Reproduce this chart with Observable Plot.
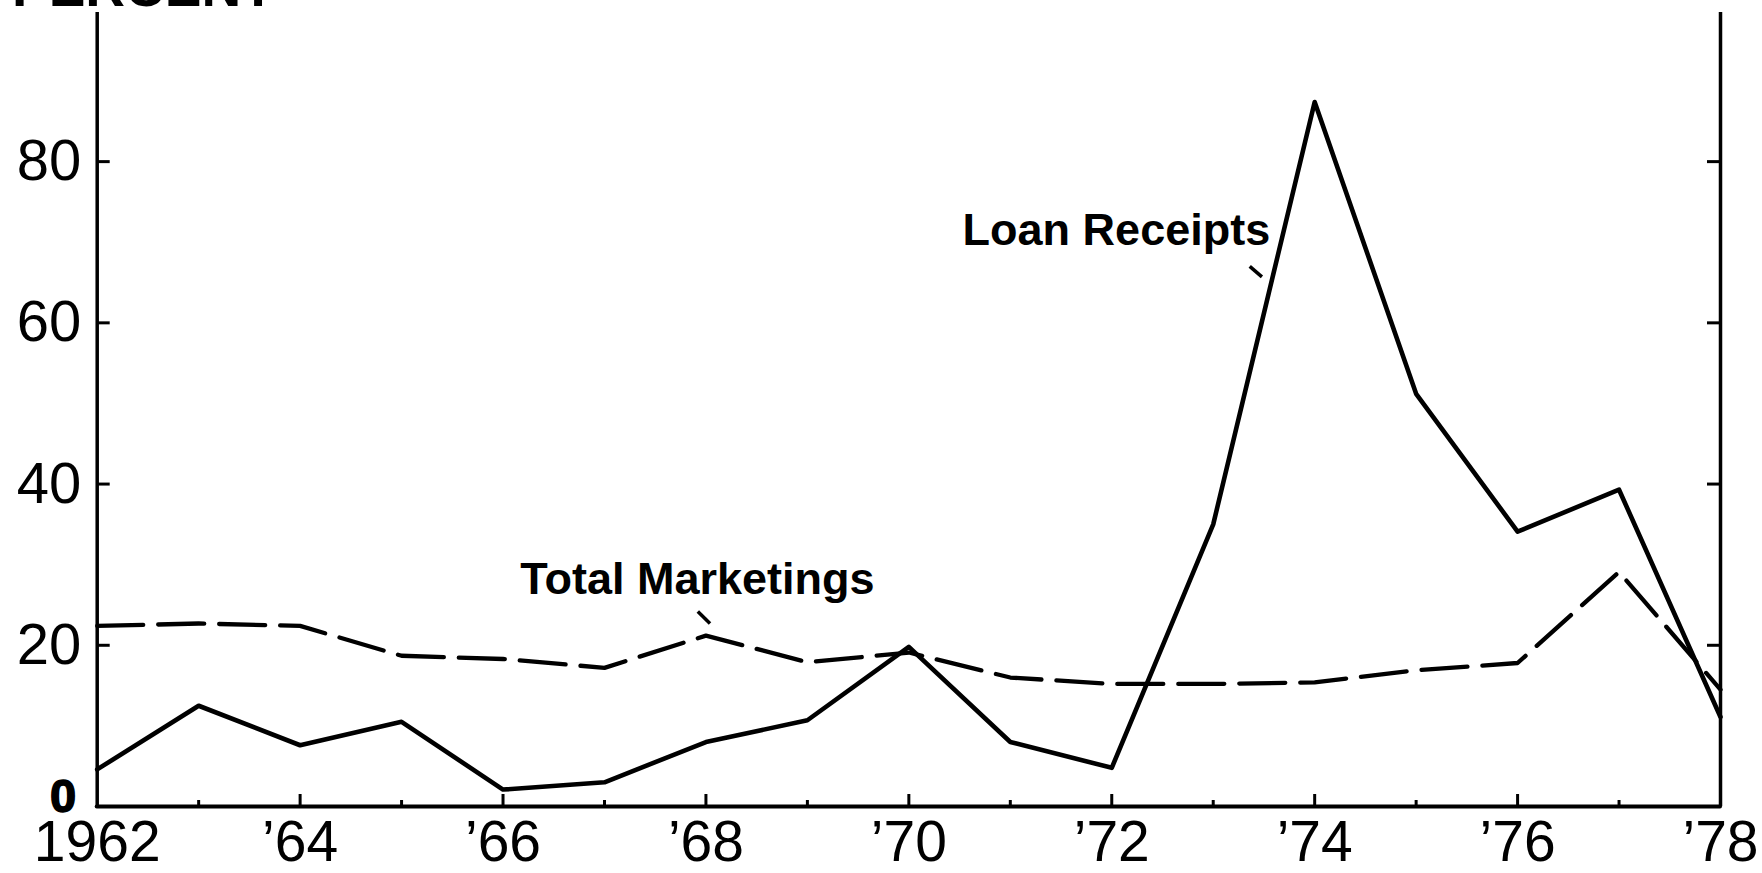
<!DOCTYPE html>
<html>
<head>
<meta charset="utf-8">
<script src="https://cdn.jsdelivr.net/npm/d3@7"></script>
<script src="https://cdn.jsdelivr.net/npm/@observablehq/plot@0.6"></script>
<style>
  html, body { margin: 0; padding: 0; background: #fff; overflow: hidden; }
  #wrap { position: relative; width: 1762px; height: 873px; }
  #title { position: absolute; top: -40px; left: 12px; z-index: 2;
           font: bold 55px "Liberation Sans", Arial, sans-serif; line-height: 1;
           color: #000; white-space: nowrap; }
  #chart { position: absolute; top: 0; left: 0; }
</style>
</head>
<body>
<div id="wrap">
  <div id="title">PERCENT</div>
  <div id="chart"></div>
</div>
<script>
// ---- data ----
const years = [1962,1963,1964,1965,1966,1967,1968,1969,1970,1971,1972,1973,1974,1975,1976,1977,1978];
const loanReceipts    = [4.6,12.5,7.6,10.5,2.1,3.0,8.0,10.7,19.8,8.0,4.8,35.0,87.4,51.2,34.1,39.3,11.1];
const totalMarketings = [22.4,22.7,22.4,18.7,18.3,17.2,21.2,17.9,19.1,16.0,15.2,15.2,15.4,16.9,17.8,29.1,14.5];

const xTickYears  = [1962,1964,1966,1968,1970,1972,1974,1976,1978];
const xTickLabels = ["1962","\u201964","\u201966","\u201968","\u201970","\u201972","\u201974","\u201976","\u201978"];
const minorTickYears = [1963,1965,1967,1969,1971,1973,1975,1977];
const yTickValues = [20,40,60,80];
const zeroLabel = ["0"];

const annotationLabels = ["Loan Receipts","Total Marketings"];
const annotationX = [1970.53, 1966.17];
const annotationY = [69.6, 26.4];
const leaderX1 = [1973.36, 1967.92];
const leaderY1 = [67.0, 24.2];
const leaderX2 = [1973.48, 1968.04];
const leaderY2 = [65.7, 22.7];

// ---- tables built from arrays ----
const loanData = years.map((y, i) => ({year: y, value: loanReceipts[i]}));
const mktData  = years.map((y, i) => ({year: y, value: totalMarketings[i]}));
const labelByYear = new Map(xTickYears.map((y, i) => [y, xTickLabels[i]]));
const annotations = annotationLabels.map((t, i) => ({text: t, x: annotationX[i], y: annotationY[i]}));
const leaders = annotationLabels.map((t, i) => ({x1: leaderX1[i], y1: leaderY1[i], x2: leaderX2[i], y2: leaderY2[i]}));

// ---- layout ----
const W = 1762, H = 873;
const mL = 96.7, mR = 42, mT = 12, mB = 67;
const frameW = W - mL - mR, frameH = H - mT - mB;
const font = "'Liberation Sans', Arial, Helvetica, sans-serif";

const chart = Plot.plot({
  width: W, height: H,
  marginLeft: mL, marginRight: mR, marginTop: mT, marginBottom: mB,
  style: {fontFamily: font, background: "transparent", color: "#000", overflow: "visible"},
  x: {domain: [years[0], years[years.length - 1]]},
  y: {domain: [0, 98.5]},
  marks: [
    // inward tick marks on the x axis
    Plot.ruleX(minorTickYears, {insetTop: frameH - 6, stroke: "#000", strokeWidth: 3}),
    Plot.ruleX(xTickYears.slice(1, -1), {insetTop: frameH - 12, stroke: "#000", strokeWidth: 3}),
    // inward ticks on left and right axes
    Plot.ruleY(yTickValues, {insetRight: frameW - 13, stroke: "#000", strokeWidth: 3}),
    Plot.ruleY(yTickValues, {insetLeft: frameW - 13, stroke: "#000", strokeWidth: 3}),
    // axis lines
    Plot.ruleX([years[0], years[years.length - 1]], {stroke: "#000", strokeWidth: 3.5}),
    Plot.ruleY([0], {stroke: "#000", strokeWidth: 4, strokeLinecap: "round"}),
    // series
    Plot.line(mktData, {x: "year", y: "value", stroke: "#000", strokeWidth: 4.3,
      strokeDasharray: "46,15", strokeLinejoin: "round"}),
    Plot.line(loanData, {x: "year", y: "value", stroke: "#000", strokeWidth: 4.6,
      strokeLinejoin: "round"}),
    // annotation leaders and labels
    Plot.link(leaders, {x1: "x1", y1: "y1", x2: "x2", y2: "y2", stroke: "#000", strokeWidth: 3.5}),
    Plot.text(annotations, {x: "x", y: "y", text: "text", textAnchor: "start", lineAnchor: "bottom",
      fontWeight: "bold", fontSize: 45, fill: "#000"}),
    // axes labels
    Plot.axisX(xTickYears, {tickSize: 0, tickPadding: 14, fontSize: 57, label: null,
      tickFormat: d => labelByYear.get(d)}),
    Plot.axisY(yTickValues, {tickSize: 0, tickPadding: 16, fontSize: 58, label: null}),
    Plot.text(zeroLabel, {y: () => 0, frameAnchor: "left", text: d => d, textAnchor: "end",
      lineAnchor: "bottom", dx: -21, dy: 5, fontWeight: "bold", fontSize: 47,
      fill: "#000", stroke: "#000", strokeWidth: 1.5})
  ]
});
document.getElementById("chart").appendChild(chart);
</script>
</body>
</html>
